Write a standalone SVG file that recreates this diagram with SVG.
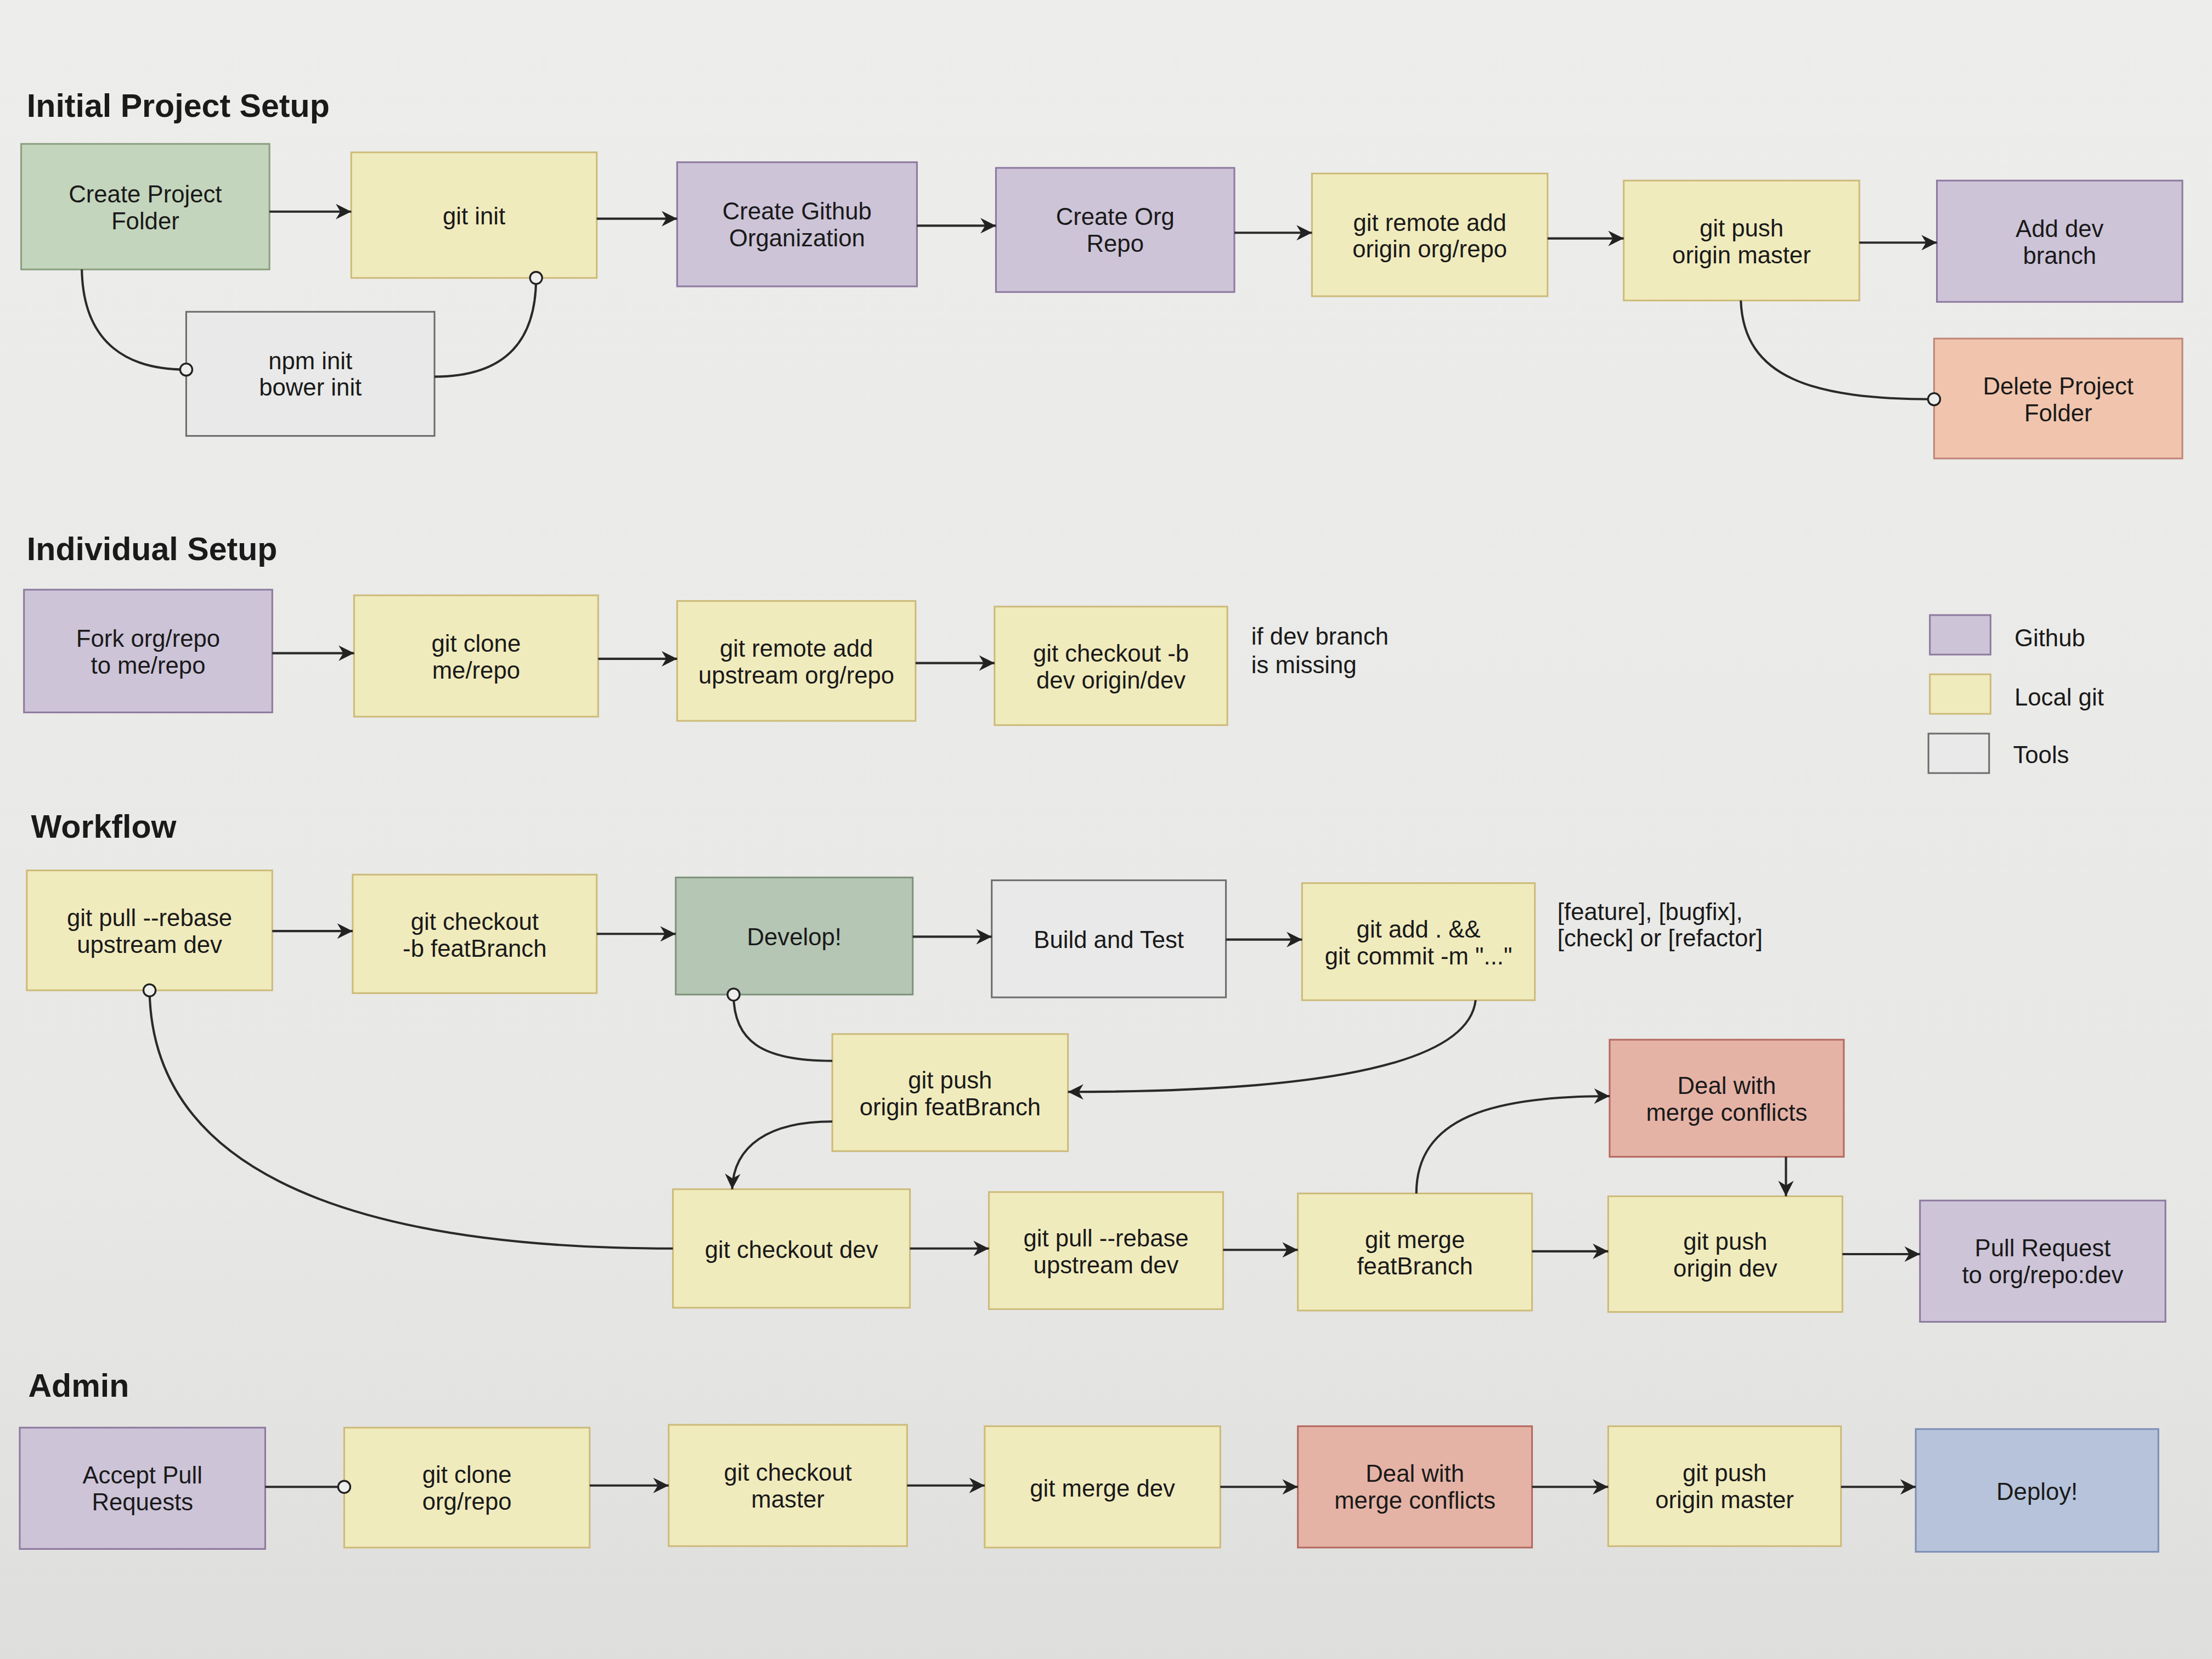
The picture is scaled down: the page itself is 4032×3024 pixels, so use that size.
<svg xmlns="http://www.w3.org/2000/svg" width="4032" height="3024" viewBox="0 0 4032 3024">
<defs>
<linearGradient id="bg" x1="0" y1="0" x2="0" y2="1">
<stop offset="0" stop-color="#ededeb"/>
<stop offset="0.7" stop-color="#e8e8e6"/>
<stop offset="1" stop-color="#dededc"/>
</linearGradient>
<marker id="arr" viewBox="0 0 10 10" refX="10" refY="5" markerWidth="13" markerHeight="11" markerUnits="userSpaceOnUse" orient="auto">
<path d="M0,0 L10,5 L0,10 L3,5 z" fill="#222"/>
</marker>
<marker id="dot" viewBox="0 0 12 12" refX="6" refY="6" markerWidth="12" markerHeight="12" markerUnits="userSpaceOnUse" orient="auto">
<circle cx="6" cy="6" r="4.3" fill="#eeeeec" stroke="#222" stroke-width="1.3"/>
</marker>
<style>
rect{stroke-width:1.2}
.y{fill:#f0ebbd;stroke:#cdbb7a}
.p{fill:#cdc4d8;stroke:#8e7aa0}
.g{fill:#c4d5bd;stroke:#8aa07f}
.gd{fill:#b5c6b4;stroke:#7f937c}
.t{fill:#e9e9e9;stroke:#6e6e6e}
.o{fill:#f1c5ad;stroke:#c0867a}
.r{fill:#e5b3a6;stroke:#b56a60}
.b{fill:#b6c3da;stroke:#7e90b6}
text{font-family:"Liberation Sans",Arial,sans-serif;font-size:17px;fill:#1a1a1a}
.n{text-anchor:middle;dominant-baseline:central}
.h{font-size:23px;font-weight:bold}
.c{fill:none;stroke:#2a2a2a;stroke-width:1.6}
.a{marker-end:url(#arr)}
</style>
</defs>
<rect x="0" y="0" width="4032" height="3024" fill="url(#bg)"/>
<g transform="scale(2.5714286)">
<g id="headings">
<text class="h" x="19" y="83">Initial Project Setup</text>
<text class="h" x="19" y="397">Individual Setup</text>
<text class="h" x="22" y="594">Workflow</text>
<text class="h" x="20" y="990">Admin</text>
</g>

<g id="create-project-folder"><rect class="g" x="15" y="102" width="176" height="89"/><text class="n" x="103" y="137.5">Create Project</text><text class="n" x="103" y="156.5">Folder</text></g>
<g id="git-init"><rect class="y" x="249" y="108" width="174" height="89"/><text class="n" x="336" y="153">git init</text></g>
<g id="create-github-org"><rect class="p" x="480" y="115" width="170" height="88"/><text class="n" x="565" y="149.5">Create Github</text><text class="n" x="565" y="168.5">Organization</text></g>
<g id="create-org-repo"><rect class="p" x="706" y="119" width="169" height="88"/><text class="n" x="790.5" y="153.5">Create Org</text><text class="n" x="790.5" y="172.5">Repo</text></g>
<g id="git-remote-origin"><rect class="y" x="930" y="123" width="167" height="87"/><text class="n" x="1013.5" y="157.5">git remote add</text><text class="n" x="1013.5" y="176.5">origin org/repo</text></g>
<g id="git-push-origin-master"><rect class="y" x="1151" y="128" width="167" height="85"/><text class="n" x="1234.5" y="161.5">git push</text><text class="n" x="1234.5" y="180.5">origin master</text></g>
<g id="add-dev-branch"><rect class="p" x="1373" y="128" width="174" height="86"/><text class="n" x="1460" y="162">Add dev</text><text class="n" x="1460" y="181">branch</text></g>
<g id="delete-project-folder"><rect class="o" x="1371" y="240" width="176" height="85"/><text class="n" x="1459" y="273.5">Delete Project</text><text class="n" x="1459" y="292.5">Folder</text></g>
<g id="npm-init"><rect class="t" x="132" y="221" width="176" height="88"/><text class="n" x="220" y="255.5">npm init</text><text class="n" x="220" y="274.5">bower init</text></g>

<g id="fork"><rect class="p" x="17" y="418" width="176" height="87"/><text class="n" x="105" y="452.5">Fork org/repo</text><text class="n" x="105" y="471.5">to me/repo</text></g>
<g id="git-clone-me"><rect class="y" x="251" y="422" width="173" height="86"/><text class="n" x="337.5" y="456">git clone</text><text class="n" x="337.5" y="475">me/repo</text></g>
<g id="git-remote-upstream"><rect class="y" x="480" y="426" width="169" height="85"/><text class="n" x="564.5" y="459.5">git remote add</text><text class="n" x="564.5" y="478.5">upstream org/repo</text></g>
<g id="git-checkout-dev-origin"><rect class="y" x="705" y="430" width="165" height="84"/><text class="n" x="787.5" y="463">git checkout -b</text><text class="n" x="787.5" y="482">dev origin/dev</text></g>
<g id="note-dev"><text x="887" y="457">if dev branch</text><text x="887" y="477">is missing</text></g>

<g id="legend">
<rect class="p" x="1368" y="436" width="43" height="28"/><text x="1428" y="458">Github</text>
<rect class="y" x="1368" y="478" width="43" height="28"/><text x="1428" y="500">Local git</text>
<rect class="t" x="1367" y="520" width="43" height="28"/><text x="1427" y="541">Tools</text>
</g>

<g id="wf-pull-rebase"><rect class="y" x="19" y="617" width="174" height="85"/><text class="n" x="106" y="650.5">git pull --rebase</text><text class="n" x="106" y="669.5">upstream dev</text></g>
<g id="wf-checkout-feat"><rect class="y" x="250" y="620" width="173" height="84"/><text class="n" x="336.5" y="653">git checkout</text><text class="n" x="336.5" y="672">-b featBranch</text></g>
<g id="wf-develop"><rect class="gd" x="479" y="622" width="168" height="83"/><text class="n" x="563" y="664">Develop!</text></g>
<g id="wf-build-test"><rect class="t" x="703" y="624" width="166" height="83"/><text class="n" x="786" y="666">Build and Test</text></g>
<g id="wf-git-add"><rect class="y" x="923" y="626" width="165" height="83"/><text class="n" x="1005.5" y="658.5">git add . &amp;&amp;</text><text class="n" x="1005.5" y="677.5">git commit -m "..."</text></g>
<g id="note-commit"><text x="1104" y="652">[feature], [bugfix],</text><text x="1104" y="671">[check] or [refactor]</text></g>
<g id="wf-push-feat"><rect class="y" x="590" y="733" width="167" height="83"/><text class="n" x="673.5" y="765.5">git push</text><text class="n" x="673.5" y="784.5">origin featBranch</text></g>
<g id="wf-checkout-dev"><rect class="y" x="477" y="843" width="168" height="84"/><text class="n" x="561" y="885.5">git checkout dev</text></g>
<g id="wf-pull-rebase-2"><rect class="y" x="701" y="845" width="166" height="83"/><text class="n" x="784" y="877.5">git pull --rebase</text><text class="n" x="784" y="896.5">upstream dev</text></g>
<g id="wf-merge-feat"><rect class="y" x="920" y="846" width="166" height="83"/><text class="n" x="1003" y="878.5">git merge</text><text class="n" x="1003" y="897.5">featBranch</text></g>
<g id="wf-deal-conflicts"><rect class="r" x="1141" y="737" width="166" height="83"/><text class="n" x="1224" y="769.5">Deal with</text><text class="n" x="1224" y="788.5">merge conflicts</text></g>
<g id="wf-push-dev"><rect class="y" x="1140" y="848" width="166" height="82"/><text class="n" x="1223" y="880">git push</text><text class="n" x="1223" y="899">origin dev</text></g>
<g id="wf-pull-request"><rect class="p" x="1361" y="851" width="174" height="86"/><text class="n" x="1448" y="884.5">Pull Request</text><text class="n" x="1448" y="903.5">to org/repo:dev</text></g>

<g id="ad-accept"><rect class="p" x="14" y="1012" width="174" height="86"/><text class="n" x="101" y="1045.5">Accept Pull</text><text class="n" x="101" y="1064.5">Requests</text></g>
<g id="ad-clone"><rect class="y" x="244" y="1012" width="174" height="85"/><text class="n" x="331" y="1045">git clone</text><text class="n" x="331" y="1064">org/repo</text></g>
<g id="ad-checkout-master"><rect class="y" x="474" y="1010" width="169" height="86"/><text class="n" x="558.5" y="1043.5">git checkout</text><text class="n" x="558.5" y="1062.5">master</text></g>
<g id="ad-merge-dev"><rect class="y" x="698" y="1011" width="167" height="86"/><text class="n" x="781.5" y="1055">git merge dev</text></g>
<g id="ad-deal-conflicts"><rect class="r" x="920" y="1011" width="166" height="86"/><text class="n" x="1003" y="1044.5">Deal with</text><text class="n" x="1003" y="1063.5">merge conflicts</text></g>
<g id="ad-push-master"><rect class="y" x="1140" y="1011" width="165" height="85"/><text class="n" x="1222.5" y="1044">git push</text><text class="n" x="1222.5" y="1063">origin master</text></g>
<g id="ad-deploy"><rect class="b" x="1358" y="1013" width="172" height="87"/><text class="n" x="1444" y="1057">Deploy!</text></g>

<g id="connectors">
<line class="c a" x1="191" y1="150" x2="249" y2="150"/>
<line class="c a" x1="423" y1="155" x2="480" y2="155"/>
<line class="c a" x1="650" y1="160" x2="706" y2="160"/>
<line class="c a" x1="875" y1="165" x2="930" y2="165"/>
<line class="c a" x1="1097" y1="169" x2="1151" y2="169"/>
<line class="c a" x1="1318" y1="172" x2="1373" y2="172"/>
<path class="c" d="M58,191 C59,245 92,262 132,262" marker-end="url(#dot)"/>
<path class="c" d="M308,267 C360,267 380,240 380,197" marker-end="url(#dot)"/>
<path class="c" d="M1234,213 C1236,268 1285,283 1371,283" marker-end="url(#dot)"/>
<line class="c a" x1="193" y1="463" x2="251" y2="463"/>
<line class="c a" x1="424" y1="467" x2="480" y2="467"/>
<line class="c a" x1="649" y1="470" x2="705" y2="470"/>
<line class="c a" x1="193" y1="660" x2="250" y2="660"/>
<line class="c a" x1="423" y1="662" x2="479" y2="662"/>
<line class="c a" x1="647" y1="664" x2="703" y2="664"/>
<line class="c a" x1="869" y1="666" x2="923" y2="666"/>
<path class="c" d="M520,705 C520,738 540,752 590,752" marker-start="url(#dot)"/>
<path class="c a" d="M1046,709 C1040,762 900,774 757,774"/>
<path class="c a" d="M590,795 C545,795 520,812 519,843"/>
<path class="c" d="M106,702 C108,852 300,885 477,885" marker-start="url(#dot)"/>
<line class="c a" x1="645" y1="885" x2="701" y2="885"/>
<line class="c a" x1="867" y1="886" x2="920" y2="886"/>
<line class="c a" x1="1086" y1="887" x2="1140" y2="887"/>
<line class="c a" x1="1306" y1="889" x2="1361" y2="889"/>
<path class="c a" d="M1004,846 C1004,792 1058,777 1141,777"/>
<line class="c a" x1="1266" y1="820" x2="1266" y2="848"/>
<line class="c" x1="188" y1="1054" x2="244" y2="1054" marker-end="url(#dot)"/>
<line class="c a" x1="418" y1="1053" x2="474" y2="1053"/>
<line class="c a" x1="643" y1="1053" x2="698" y2="1053"/>
<line class="c a" x1="865" y1="1054" x2="920" y2="1054"/>
<line class="c a" x1="1086" y1="1054" x2="1140" y2="1054"/>
<line class="c a" x1="1305" y1="1054" x2="1358" y2="1054"/>
</g>
</g>
</svg>
